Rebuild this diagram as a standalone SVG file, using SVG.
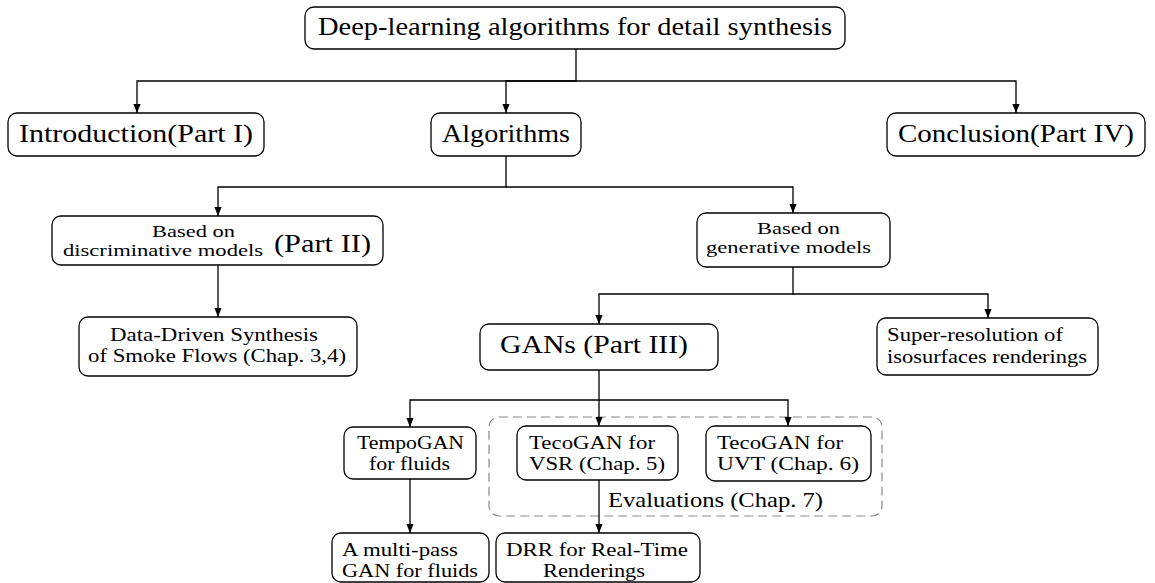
<svg xmlns="http://www.w3.org/2000/svg" width="1155" height="583" viewBox="0 0 1155 583">
  <style>
    .box { fill: #ffffff; stroke: #000000; stroke-width: 1.3; }
    .link { fill: none; stroke: #000000; stroke-width: 1.3; }
    .group { fill: none; stroke: #8a8a8a; stroke-width: 1.2; stroke-dasharray: 9 5; }
    text { font-family: "Liberation Serif", "Times New Roman", serif; fill: #000000; }
    .lg { font-size: 26px; }
    .sm { font-size: 19px; }
    .xs { font-size: 17px; }
    .md { font-size: 21px; }
  </style>
  <defs>
    <marker id="arrow" viewBox="0 0 10 8" refX="10" refY="4" markerWidth="9" markerHeight="7.2" markerUnits="userSpaceOnUse" orient="auto">
      <path d="M0,0 L10,4 L0,8 Z" fill="#000000"/>
    </marker>
  </defs>

  <!-- dashed grouping frame for the evaluated TecoGAN work -->
  <g id="evaluations">
    <rect class="group" x="489" y="417" width="393" height="99" rx="10"/>
    <text class="md" x="608" y="507" textLength="215" lengthAdjust="spacingAndGlyphs">Evaluations (Chap. 7)</text>
  </g>

  <!-- connectors -->
  <g id="connectors">
    <path class="link" d="M576,49 V81 H137 V113" marker-end="url(#arrow)"/>
    <path class="link" d="M576,81 H506 V113" marker-end="url(#arrow)"/>
    <path class="link" d="M576,81 H1016 V113" marker-end="url(#arrow)"/>

    <path class="link" d="M506,156 V187 H218 V216" marker-end="url(#arrow)"/>
    <path class="link" d="M506,187 H793 V213" marker-end="url(#arrow)"/>

    <path class="link" d="M218,265 V317" marker-end="url(#arrow)"/>

    <path class="link" d="M793,267 V294 H599 V324" marker-end="url(#arrow)"/>
    <path class="link" d="M793,294 H988 V318" marker-end="url(#arrow)"/>

    <path class="link" d="M599,370 V400 H410 V427" marker-end="url(#arrow)"/>
    <path class="link" d="M599,400 V426" marker-end="url(#arrow)"/>
    <path class="link" d="M599,400 H788 V426" marker-end="url(#arrow)"/>

    <path class="link" d="M410,479 V533" marker-end="url(#arrow)"/>
    <path class="link" d="M599,480 V533" marker-end="url(#arrow)"/>
  </g>

  <g id="root">
    <rect class="box" x="305" y="7" width="540" height="42" rx="9"/>
    <text class="lg" x="318" y="35" textLength="514" lengthAdjust="spacingAndGlyphs">Deep-learning algorithms for detail synthesis</text>
  </g>

  <g id="introduction">
    <rect class="box" x="8" y="113" width="256" height="43" rx="9"/>
    <text class="lg" x="19" y="142" textLength="234" lengthAdjust="spacingAndGlyphs">Introduction(Part I)</text>
  </g>

  <g id="algorithms">
    <rect class="box" x="431" y="113" width="150" height="43" rx="9"/>
    <text class="lg" x="442" y="142" textLength="128" lengthAdjust="spacingAndGlyphs">Algorithms</text>
  </g>

  <g id="conclusion">
    <rect class="box" x="887" y="113" width="258" height="43" rx="9"/>
    <text class="lg" x="898" y="142" textLength="236" lengthAdjust="spacingAndGlyphs">Conclusion(Part IV)</text>
  </g>

  <g id="discriminative">
    <rect class="box" x="52" y="216" width="331" height="49" rx="9"/>
    <text class="xs" x="152" y="237" textLength="83" lengthAdjust="spacingAndGlyphs">Based on</text>
    <text class="xs" x="63" y="256" textLength="200" lengthAdjust="spacingAndGlyphs">discriminative models</text>
    <text class="lg" x="274" y="252" textLength="97" lengthAdjust="spacingAndGlyphs">(Part II)</text>
  </g>

  <g id="generative">
    <rect class="box" x="697" y="213" width="193" height="54" rx="9"/>
    <text class="xs" x="757" y="234" textLength="83" lengthAdjust="spacingAndGlyphs">Based on</text>
    <text class="xs" x="706" y="253" textLength="165" lengthAdjust="spacingAndGlyphs">generative models</text>
  </g>

  <g id="smoke-flows">
    <rect class="box" x="79" y="317" width="278" height="59" rx="9"/>
    <text class="sm" x="110" y="341" textLength="208" lengthAdjust="spacingAndGlyphs">Data-Driven Synthesis</text>
    <text class="sm" x="88" y="362" textLength="258" lengthAdjust="spacingAndGlyphs">of Smoke Flows (Chap. 3,4)</text>
  </g>

  <g id="gans">
    <rect class="box" x="480" y="324" width="238" height="46" rx="9"/>
    <text class="lg" x="500" y="353" textLength="188" lengthAdjust="spacingAndGlyphs">GANs (Part III)</text>
  </g>

  <g id="super-resolution">
    <rect class="box" x="877" y="318" width="221" height="57" rx="9"/>
    <text class="sm" x="887" y="341" textLength="176" lengthAdjust="spacingAndGlyphs">Super-resolution of</text>
    <text class="sm" x="887" y="363" textLength="200" lengthAdjust="spacingAndGlyphs">isosurfaces renderings</text>
  </g>

  <g id="tempogan">
    <rect class="box" x="344" y="427" width="132" height="52" rx="9"/>
    <text class="sm" x="357" y="449" textLength="107" lengthAdjust="spacingAndGlyphs">TempoGAN</text>
    <text class="sm" x="369" y="470" textLength="81" lengthAdjust="spacingAndGlyphs">for fluids</text>
  </g>

  <g id="tecogan-vsr">
    <rect class="box" x="517" y="426" width="161" height="54" rx="9"/>
    <text class="sm" x="529" y="449" textLength="126" lengthAdjust="spacingAndGlyphs">TecoGAN for</text>
    <text class="sm" x="529" y="470" textLength="136" lengthAdjust="spacingAndGlyphs">VSR (Chap. 5)</text>
  </g>

  <g id="tecogan-uvt">
    <rect class="box" x="706" y="426" width="165" height="55" rx="9"/>
    <text class="sm" x="717" y="449" textLength="126" lengthAdjust="spacingAndGlyphs">TecoGAN for</text>
    <text class="sm" x="717" y="470" textLength="142" lengthAdjust="spacingAndGlyphs">UVT (Chap. 6)</text>
  </g>

  <g id="multi-pass">
    <rect class="box" x="332" y="533" width="157" height="49" rx="9"/>
    <text class="sm" x="342" y="556" textLength="116" lengthAdjust="spacingAndGlyphs">A multi-pass</text>
    <text class="sm" x="342" y="577" textLength="136" lengthAdjust="spacingAndGlyphs">GAN for fluids</text>
  </g>

  <g id="drr">
    <rect class="box" x="496" y="533" width="204" height="49" rx="9"/>
    <text class="sm" x="506" y="556" textLength="182" lengthAdjust="spacingAndGlyphs">DRR for Real-Time</text>
    <text class="sm" x="543" y="577" textLength="102" lengthAdjust="spacingAndGlyphs">Renderings</text>
  </g>
</svg>
